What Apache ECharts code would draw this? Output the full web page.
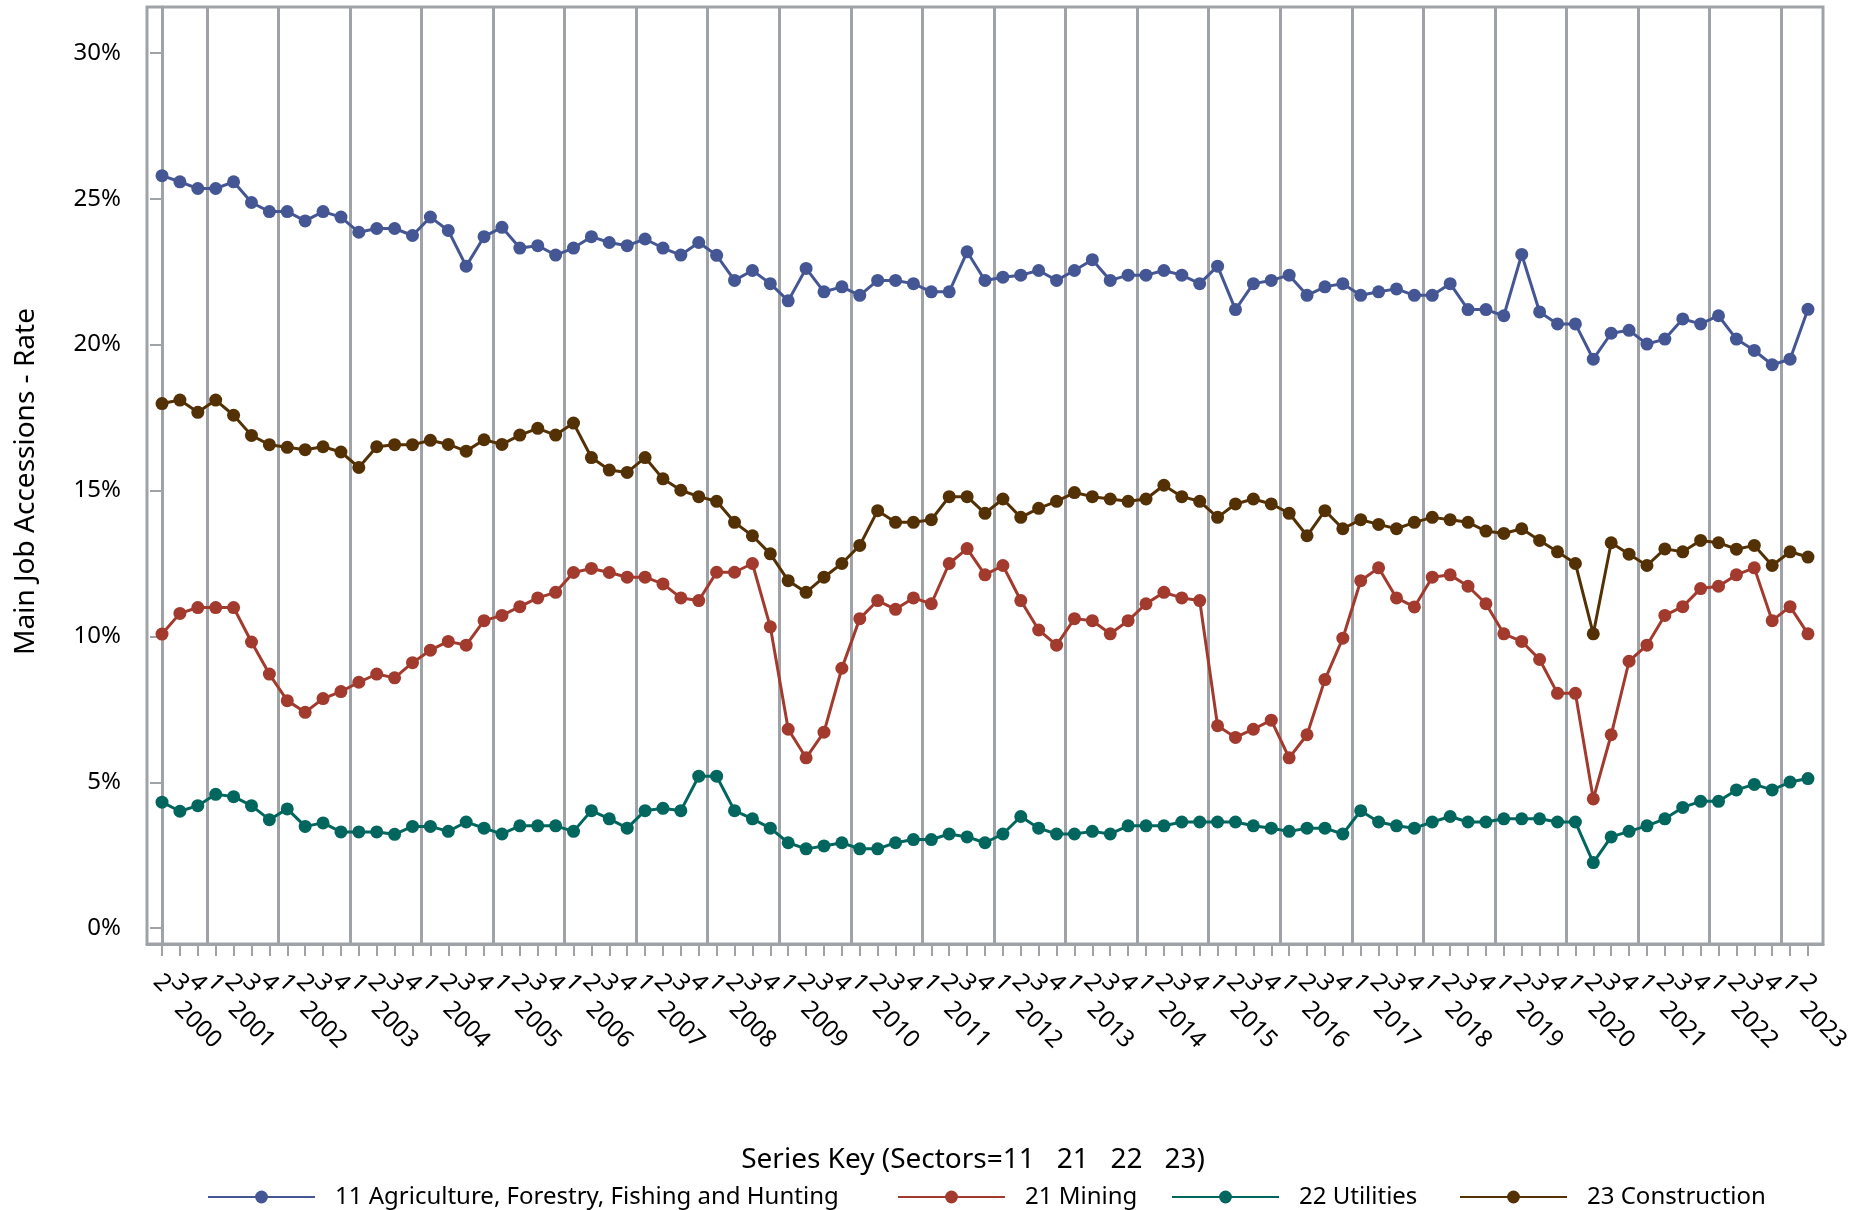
<!DOCTYPE html>
<html>
<head>
<meta charset="utf-8">
<title>Main Job Accessions - Rate</title>
<script src="https://cdn.jsdelivr.net/npm/echarts@6/dist/echarts.min.js"></script>
<style>
  html, body { margin: 0; padding: 0; background: #fff; }
  #main { width: 1866px; height: 1210px; }
</style>
</head>
<body>
<div id="main"></div>
<script>
// quarterly series, 2000 Q2 .. 2023 Q2
var years = [2000, 2001, 2002, 2003, 2004, 2005, 2006, 2007, 2008, 2009, 2010, 2011,
             2012, 2013, 2014, 2015, 2016, 2017, 2018, 2019, 2020, 2021, 2022, 2023];
var firstQuarter = 2;   // first year starts at Q2
var lastQuarter = 2;    // last year ends at Q2
var yTicks = [0, 5, 10, 15, 20, 25, 30];

var seriesNames = ['11 Agriculture, Forestry, Fishing and Hunting', '21 Mining', '22 Utilities', '23 Construction'];
var legendTitle = 'Series Key (Sectors=11   21   22   23)';

var agriculture = [
  25.79, 25.58, 25.35, 25.35, 25.58, 24.87, 24.56, 24.56, 24.24, 24.56, 24.37, 23.85, 23.98, 23.98, 23.74, 24.37,
  23.91, 22.69, 23.70, 24.02, 23.31, 23.39, 23.07, 23.31, 23.70, 23.50, 23.39, 23.62, 23.31, 23.07, 23.50, 23.06, 22.20,
  22.54, 22.09, 21.50, 22.61, 21.81, 21.98, 21.69, 22.20, 22.20, 22.09, 21.81, 21.81, 23.18, 22.20, 22.31, 22.38, 22.54,
  22.20, 22.54, 22.91, 22.20, 22.38, 22.38, 22.54, 22.38, 22.09, 22.69, 21.20, 22.09, 22.20, 22.38, 21.69, 21.98,
  22.09, 21.69, 21.81, 21.91, 21.69, 21.69, 22.09, 21.20, 21.20, 20.99, 23.09, 21.12, 20.71, 20.71, 19.50, 20.39, 20.49,
  20.02, 20.19, 20.88, 20.71, 20.99, 20.19, 19.80, 19.31, 19.50, 21.21
];
var mining = [
  10.08, 10.79, 10.99, 10.99, 10.99, 9.81, 8.71, 7.80, 7.40, 7.87, 8.11, 8.43, 8.71, 8.58, 9.10, 9.53,
  9.83, 9.70, 10.54, 10.72, 11.02, 11.32, 11.51, 12.19, 12.33, 12.19, 12.03, 12.03, 11.80, 11.32, 11.23, 12.20, 12.20,
  12.50, 10.33, 6.82, 5.84, 6.72, 8.91, 10.61, 11.23, 10.93, 11.32, 11.12, 12.50, 13.01, 12.11, 12.43, 11.23, 10.22,
  9.70, 10.61, 10.54, 10.09, 10.54, 11.12, 11.51, 11.32, 11.23, 6.94, 6.54, 6.82, 7.13, 5.84, 6.63, 8.52,
  9.94, 11.91, 12.35, 11.32, 11.01, 12.03, 12.11, 11.72, 11.12, 10.09, 9.83, 9.21, 8.05, 8.05, 4.43, 6.63, 9.15,
  9.70, 10.72, 11.02, 11.64, 11.72, 12.11, 12.35, 10.54, 11.02, 10.09
];
var utilities = [
  4.32, 4.01, 4.20, 4.59, 4.51, 4.20, 3.72, 4.09, 3.49, 3.61, 3.30, 3.30, 3.30, 3.22, 3.49, 3.49,
  3.32, 3.64, 3.43, 3.23, 3.51, 3.51, 3.51, 3.32, 4.03, 3.75, 3.43, 4.03, 4.11, 4.03, 5.21, 5.21, 4.03,
  3.75, 3.43, 2.93, 2.72, 2.82, 2.93, 2.72, 2.72, 2.93, 3.04, 3.04, 3.23, 3.13, 2.93, 3.23, 3.83, 3.43,
  3.23, 3.23, 3.32, 3.23, 3.51, 3.51, 3.51, 3.64, 3.64, 3.64, 3.64, 3.51, 3.43, 3.32, 3.43, 3.43,
  3.23, 4.03, 3.64, 3.51, 3.43, 3.64, 3.83, 3.64, 3.64, 3.75, 3.75, 3.75, 3.64, 3.64, 2.25, 3.13, 3.32,
  3.51, 3.75, 4.14, 4.35, 4.35, 4.74, 4.93, 4.74, 5.01, 5.13
];
var construction = [
  17.98, 18.10, 17.68, 18.10, 17.58, 16.89, 16.57, 16.48, 16.40, 16.50, 16.32, 15.79, 16.50, 16.57, 16.57, 16.72,
  16.58, 16.35, 16.74, 16.58, 16.90, 17.13, 16.90, 17.31, 16.13, 15.70, 15.62, 16.13, 15.40, 15.01, 14.79, 14.63, 13.91,
  13.45, 12.83, 11.91, 11.51, 12.03, 12.50, 13.12, 14.31, 13.91, 13.91, 14.00, 14.79, 14.79, 14.22, 14.71, 14.08, 14.39,
  14.63, 14.93, 14.79, 14.71, 14.63, 14.71, 15.18, 14.79, 14.63, 14.08, 14.54, 14.71, 14.54, 14.22, 13.45, 14.31,
  13.69, 14.00, 13.84, 13.69, 13.91, 14.08, 14.00, 13.91, 13.61, 13.53, 13.69, 13.29, 12.90, 12.50, 10.09, 13.21, 12.82,
  12.43, 13.00, 12.90, 13.29, 13.21, 12.99, 13.12, 12.43, 12.90, 12.72
];

var colors = ['#445694', '#A23A2E', '#01665E', '#543005'];
var gridColor = '#9fa3a7';
var font = '"Noto Sans", "Open Sans", sans-serif';

var chart = echarts.init(document.getElementById('main'));

// build the quarter list and year positions on the index scale
var periods = [];
var yearStart = [];   // index where Q1 of each year sits (may be virtual)
years.forEach(function (y, yi) {
  yearStart.push(periods.length - (yi === 0 ? firstQuarter - 1 : 0));
  for (var q = 1; q <= 4; q++) {
    if (yi === 0 && q < firstQuarter) continue;
    if (yi === years.length - 1 && q > lastQuarter) continue;
    periods.push({ year: y, quarter: q });
  }
});
var xMin = -0.84, xMax = periods.length - 1 + 0.84;
var idx = periods.map(function (p, i) { return i; });
// empty labels at both ends so echarts' min/max overlap check doesn't drop real ones
var quarterLabelPos = [xMin].concat(idx, [xMax]);
var yearBreaks = yearStart.slice(1).map(function (s) { return s - 0.5; });
var yearCenters = yearStart.map(function (s) { return Math.min(Math.max(s + 2, 2), xMax); });

function toPoints(values) {
  return values.map(function (v, i) { return [i, v]; });
}

function lineSeries(k, values) {
  return {
    name: seriesNames[k],
    type: 'line',
    data: toPoints(values),
    symbol: 'circle',
    symbolSize: 13,
    showSymbol: true,
    lineStyle: { color: colors[k], width: 3 },
    itemStyle: { color: colors[k] },
    z: 3
  };
}

var option = {
  animation: false,
  backgroundColor: '#fff',
  textStyle: { fontFamily: font, color: '#000' },
  grid: {
    left: 147, right: 43, top: 7, bottom: 266,
    show: true, borderColor: gridColor, borderWidth: 3, backgroundColor: 'transparent'
  },
  xAxis: [{
    type: 'value', min: xMin, max: xMax,
    axisLine: { show: true, onZero: false, lineStyle: { color: gridColor, width: 3 } },
    axisTick: { show: true, customValues: idx, length: 12, lineStyle: { color: gridColor, width: 2 } },
    splitLine: { show: false },
    axisLabel: {
      customValues: quarterLabelPos, showMinLabel: true, showMaxLabel: true, hideOverlap: false,
      rotate: -45, margin: 39, align: 'center', verticalAlign: 'middle',
      fontSize: 24, fontFamily: font, color: '#000',
      formatter: function (v) {
        if (Math.abs(v - Math.round(v)) > 1e-6) return '';
        var p = periods[Math.round(v)];
        return p ? String(p.quarter) : '';
      }
    }
  }, {
    type: 'value', min: xMin, max: xMax, position: 'bottom',
    axisLine: { show: false }, axisTick: { show: false }, splitLine: { show: false },
    axisLabel: {
      customValues: yearCenters, showMinLabel: true, showMaxLabel: true, hideOverlap: false,
      rotate: -45, margin: 81, align: 'center', verticalAlign: 'middle',
      fontSize: 24, fontFamily: font, color: '#000',
      formatter: function (v) {
        var k = -1;
        yearCenters.forEach(function (c, j) { if (Math.abs(c - v) < 1e-6) k = j; });
        return k >= 0 ? String(years[k]) : '';
      }
    }
  }],
  yAxis: {
    type: 'value', min: -0.54, max: 31.57,
    name: 'Main Job Accessions - Rate', nameLocation: 'middle', nameGap: 107,
    nameTextStyle: { fontSize: 28, fontFamily: font, color: '#000', padding: [0, 12, 0, 0] },
    axisLine: { show: true, lineStyle: { color: gridColor, width: 3 } },
    axisTick: { show: true, customValues: yTicks, length: 12, lineStyle: { color: gridColor, width: 2 } },
    splitLine: { show: false },
    axisLabel: {
      customValues: yTicks, showMinLabel: true, showMaxLabel: true,
      margin: 26, fontSize: 24, fontFamily: font, color: '#000',
      formatter: function (v) { return v + '%'; }
    }
  },
  legend: [202, 892, 1166, 1454].map(function (left, k) {
    return {
      data: [seriesNames[k]], left: left, top: 1180,
      itemWidth: 107, itemHeight: 16, itemGap: 0,
      textStyle: { fontSize: 24, fontFamily: font, color: '#000', padding: [0, 0, 0, 15] }
    };
  }),
  graphic: [{
    type: 'text', x: 973, y: 1160,
    style: {
      text: legendTitle, align: 'center', verticalAlign: 'middle',
      fontSize: 28, fontFamily: font, fill: '#000'
    }
  }],
  series: [{
    type: 'line', data: [], silent: true, z: 1,
    markLine: {
      silent: true, z: 1, symbol: ['none', 'none'], label: { show: false },
      lineStyle: { color: gridColor, width: 3, type: 'solid' },
      emphasis: { disabled: true },
      data: yearBreaks.map(function (b) { return { xAxis: b }; })
    }
  },
    lineSeries(0, agriculture),
    lineSeries(1, mining),
    lineSeries(2, utilities),
    lineSeries(3, construction)
  ]
};
chart.setOption(option);
window.onresize = function () { chart.resize(); };
</script>
</body>
</html>
